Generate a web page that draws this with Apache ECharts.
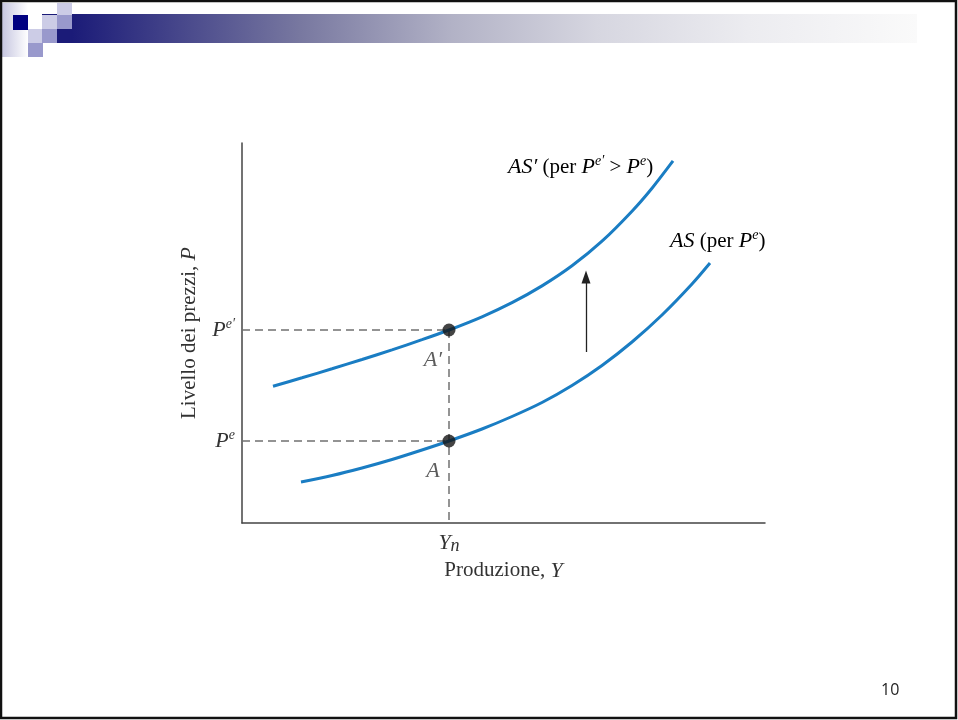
<!DOCTYPE html>
<html>
<head>
<meta charset="utf-8">
<script src="https://cdn.jsdelivr.net/npm/echarts@6/dist/echarts.min.js"></script>
<style>
html,body{margin:0;padding:0;background:#fff;}
#chart{width:958px;height:720px;}
</style>
</head>
<body>
<div id="chart"></div>
<script>
// Data (in axis units: x = output Y, y = price level P)
const asX  = [59, 90, 120, 150, 180, 207, 240, 270, 300, 330, 360, 390, 420, 450, 468];
const asY  = [41, 47.5, 55, 63.5, 73, 82, 94, 106.5, 120.5, 137.5, 157.5, 181, 208, 239, 260];
const as2X = [31, 60, 90, 120, 150, 180, 207, 240, 270, 300, 330, 360, 390, 410, 431];
const as2Y = [136.8, 145.2, 154.2, 163.5, 173.1, 183.3, 193, 206.2, 220.3, 237.1, 257.2, 281.8, 311.8, 334.8, 362.1];
const Yn = 207;
const Pe = 82;
const PeP = 193;
const arrowX = 344;
const arrowFrom = 171;
const arrowTo = 246;
const xTicks = [Yn];
const yTicks = [Pe, PeP];

const SERIF = 'Liberation Serif';
const TXT = '#333';
const BLUE = '#1a7dc3';

const rich = {
  i: {fontFamily: SERIF, fontStyle: 'italic', fontSize: 22, color: TXT},
  r: {fontFamily: SERIF, fontSize: 21, color: TXT},
  s: {fontFamily: SERIF, fontStyle: 'italic', fontSize: 14, color: TXT, padding: [0, 0, 12, 0]},
  sub: {fontFamily: SERIF, fontStyle: 'italic', fontSize: 18, color: TXT, padding: [6, 0, 0, 0]}
};

const zip = (xs, ys) => xs.map((x, k) => [x, ys[k]]);

const chart = echarts.init(document.getElementById('chart'), null, {renderer: 'canvas'});

const dashStyle = {color: '#707070', width: 1.5, type: [8, 5]};

const option = {
  animation: false,
  backgroundColor: '#fff',
  grid: {left: 242, top: 143, right: 193, bottom: 197, containLabel: false},
  xAxis: {
    type: 'value', min: 0, max: 523,
    splitLine: {show: false},
    axisTick: {show: false},
    axisLine: {onZero: false, lineStyle: {color: '#444', width: 1.5}},
    axisLabel: {
      customValues: xTicks, margin: 8,
      formatter: () => '{i|Y}{sub|n}',
      rich: rich
    },
    name: '{r|Produzione, }{i|Y}',
    nameLocation: 'middle', nameGap: 30,
    nameTextStyle: {rich: rich}
  },
  yAxis: {
    type: 'value', min: 0, max: 380,
    splitLine: {show: false},
    axisTick: {show: false},
    axisLine: {onZero: false, lineStyle: {color: '#444', width: 1.5}},
    axisLabel: {
      customValues: yTicks, margin: 7,
      formatter: v => v === PeP ? '{i|P}{s|e′}' : '{i|P}{s|e}',
      rich: rich
    },
    name: '{r|Livello dei prezzi, }{i|P}',
    nameLocation: 'middle', nameGap: 42, nameRotate: 90,
    nameTextStyle: {rich: rich}
  },
  series: [
    {type: 'line', data: [[0, PeP], [Yn, PeP]], symbol: 'none', lineStyle: dashStyle, silent: true, z: 1},
    {type: 'line', data: [[0, Pe], [Yn, Pe]], symbol: 'none', lineStyle: dashStyle, silent: true, z: 1},
    {type: 'line', data: [[Yn, PeP], [Yn, 0]], symbol: 'none', lineStyle: dashStyle, silent: true, z: 1},
    {type: 'line', name: 'AS', data: zip(asX, asY), symbol: 'none', smooth: 0.3,
      lineStyle: {color: BLUE, width: 3}, z: 3},
    {type: 'line', name: "AS'", data: zip(as2X, as2Y), symbol: 'none', smooth: 0.3,
      lineStyle: {color: BLUE, width: 3}, z: 3,
      markLine: {
        silent: true, symbol: ['none', 'triangle'], symbolSize: [9, 13],
        label: {show: false},
        lineStyle: {color: '#222', width: 1.3, type: 'solid'},
        data: [[{coord: [arrowX, arrowFrom]}, {coord: [arrowX, arrowTo]}]]
      }
    },
    {type: 'scatter', data: [[Yn, PeP], [Yn, Pe]], symbolSize: 13,
      itemStyle: {color: '#151515'}, z: 5,
      label: {
        show: true, position: 'inside',
        formatter: p => p.dataIndex === 0 ? '{i|A′}' : '{i|A}',
        offset: [-16, 30],
        rich: rich
      }
    }
  ],
  graphic: [
    // slide border
    {type: 'rect', shape: {x: 1, y: 1, width: 955, height: 717}, style: {fill: 'none', stroke: '#111', lineWidth: 2.5}, z: 100},
    // header decoration
    {type: 'rect', shape: {x: 2, y: 3, width: 26, height: 54},
      style: {fill: {type: 'linear', x: 0, y: 0, x2: 1, y2: 0, colorStops: [{offset: 0, color: '#c6c6e0'}, {offset: 1, color: '#ffffff'}]}}},
    {type: 'rect', shape: {x: 72, y: 14, width: 845, height: 29},
      style: {fill: {type: 'linear', x: 0, y: 0, x2: 1, y2: 0, colorStops: [
        {offset: 0, color: '#1b1b78'}, {offset: 0.27, color: '#7878a0'},
        {offset: 0.45, color: '#b2b2c6'}, {offset: 0.62, color: '#d6d6e0'},
        {offset: 0.8, color: '#ececf0'}, {offset: 1, color: '#fafafa'}]}}},
    {type: 'rect', shape: {x: 13, y: 15, width: 15, height: 15}, style: {fill: '#000080'}},
    {type: 'rect', shape: {x: 57, y: 3, width: 15, height: 12}, style: {fill: '#ccccE6'}},
    {type: 'rect', shape: {x: 42, y: 15, width: 15, height: 14}, style: {fill: '#ccccE6'}},
    {type: 'rect', shape: {x: 42, y: 14, width: 15, height: 1}, style: {fill: '#1b1b78'}},
    {type: 'rect', shape: {x: 57, y: 15, width: 15, height: 14}, style: {fill: '#9999CC'}},
    {type: 'rect', shape: {x: 28, y: 29, width: 14, height: 14}, style: {fill: '#ccccE6'}},
    {type: 'rect', shape: {x: 42, y: 29, width: 15, height: 14}, style: {fill: '#9999CC'}},
    {type: 'rect', shape: {x: 57, y: 29, width: 15, height: 14}, style: {fill: '#1b1b78'}},
    {type: 'rect', shape: {x: 28, y: 43, width: 15, height: 14}, style: {fill: '#9999CC'}},
    // curve labels
    {type: 'text', left: 508, top: 154,
      style: {text: '{i|AS′}{r| (per }{i|P}{s|e′}{r| > }{i|P}{s|e}{r|)}', rich: rich}},
    {type: 'text', left: 670, top: 228,
      style: {text: '{i|AS}{r| (per }{i|P}{s|e}{r|)}', rich: rich}},
    // page number
    {type: 'text', left: 881, top: 682,
      style: {text: '10', fontFamily: 'Open Sans', fontSize: 16, fill: '#222'}}
  ]
};
chart.setOption(option);
</script>
</body>
</html>
